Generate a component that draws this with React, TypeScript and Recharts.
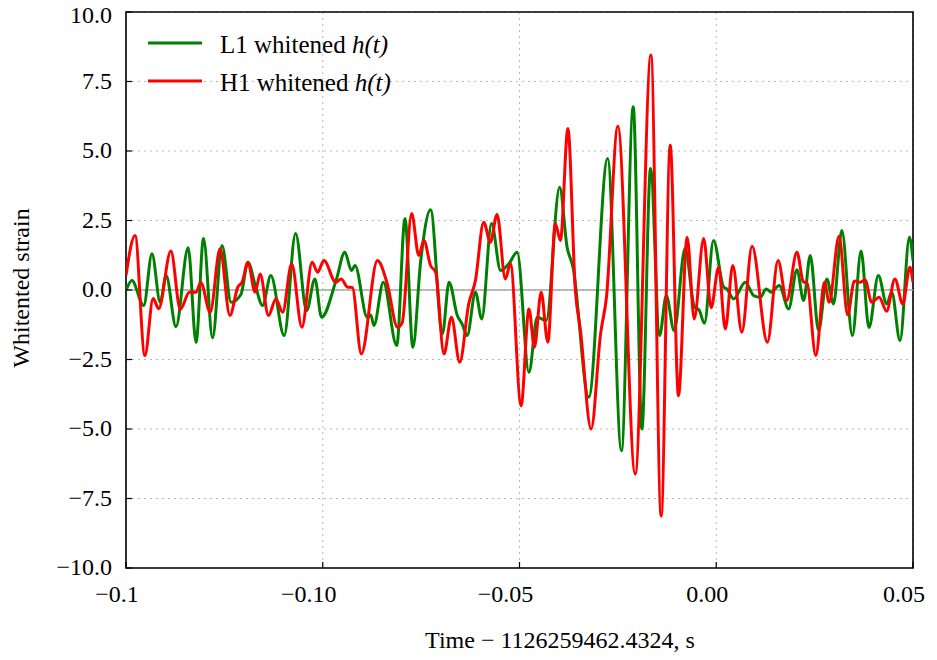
import React from 'react';
import { LineChart, Line, XAxis, YAxis, CartesianGrid, ReferenceLine, ReferenceArea, Legend } from 'recharts';

// L1 whitened strain, read peak by peak off the plot
const l1Time = [
  -0.15, -0.1485, -0.1455, -0.1434, -0.1413, -0.1398, -0.1373, -0.1342, -0.1322, -0.1303,
  -0.128, -0.1256, -0.1233, -0.1208, -0.119, -0.117, -0.1153, -0.1132, -0.1098, -0.1069,
  -0.1041, -0.102, -0.1003, -0.0965, -0.0944, -0.0927, -0.0918, -0.0887, -0.0878, -0.087,
  -0.0846, -0.0812, -0.0791, -0.0771, -0.0751, -0.0726, -0.0696, -0.0679, -0.0658, -0.0646,
  -0.0633, -0.0612, -0.0596, -0.0571, -0.0548, -0.0527, -0.0506, -0.0476, -0.0455, -0.0432,
  -0.0398, -0.0379, -0.0364, -0.0324, -0.0276, -0.0241, -0.0211, -0.0189, -0.0167, -0.0144,
  -0.0127, -0.0107, -0.0079, -0.0056, -0.0043, -0.003, -0.0007, 0.0019, 0.0027, 0.0044,
  0.0074, 0.0095, 0.0112, 0.0127, 0.0139, 0.016, 0.0184, 0.0205, 0.0222, 0.0239,
  0.026, 0.0281, 0.0298, 0.0319, 0.0346, 0.0368, 0.0388, 0.0412, 0.0433, 0.0446,
  0.0467, 0.0491, 0.05,
];
const l1Strain = [
  -0.02, 0.34, -0.56, 1.3, -0.44, 0.52, -1.32, 1.52, -1.88, 1.85,
  -1.72, 1.6, -0.44, -0.16, 0.99, 0.09, -0.56, 0.52, -1.64, 2.03,
  -0.74, 0.4, -0.98, 0.4, 1.36, 0.7, 0.88, -0.98, -0.9, -1.28,
  0.28, -2.0, 2.57, -2.06, 1.06, 2.89, -1.58, 0.28, -0.92, -1.22,
  -1.64, -0.08, -1.04, 2.39, 0.7, 0.94, 1.36, -2.96, -0.98, -1.1,
  3.7, 1.54, 0.82, -3.86, 4.73, -5.78, 6.59, -5.0, 4.37, -1.64,
  -0.2, -1.46, 1.5, -0.59, -0.74, -1.2, 1.78, 0.1, 0.04, -0.32,
  0.28, -0.2, -0.26, 0.04, -0.08, 0.16, -0.68, 0.73, -0.38, 1.24,
  -1.46, 0.4, -0.5, 2.14, -1.64, 1.4, -1.35, 0.52, -0.5, -0.08,
  -1.82, 1.9, 1.06,
];

// H1 whitened strain
const h1Time = [
  -0.15, -0.1477, -0.1452, -0.1431, -0.1417, -0.1386, -0.1362, -0.1339, -0.1322, -0.131,
  -0.1286, -0.1261, -0.1236, -0.1216, -0.1205, -0.119, -0.1172, -0.1159, -0.1138, -0.1119,
  -0.1102, -0.1079, -0.1053, -0.1027, -0.1013, -0.0997, -0.0967, -0.0953, -0.0937, -0.0925,
  -0.0902, -0.0861, -0.0836, -0.081, -0.0798, -0.0774, -0.0756, -0.0743, -0.0726, -0.0713,
  -0.0692, -0.0673, -0.0652, -0.0629, -0.0612, -0.0591, -0.0574, -0.0557, -0.0536, -0.0523,
  -0.0496, -0.0476, -0.0462, -0.0445, -0.0428, -0.0409, -0.0396, -0.0377, -0.0358, -0.0345,
  -0.0318, -0.0294, -0.0279, -0.025, -0.0206, -0.0166, -0.014, -0.0117, -0.0096, -0.0074,
  -0.0056, -0.0032, -0.0013, 0.0006, 0.0023, 0.0042, 0.0065, 0.0091, 0.013, 0.0157,
  0.0179, 0.0205, 0.0222, 0.023, 0.0253, 0.0275, 0.0287, 0.0312, 0.0334, 0.0351,
  0.0366, 0.0378, 0.0395, 0.0414, 0.0433, 0.0454, 0.0474, 0.0492, 0.05,
];
const h1Strain = [
  0.52, 1.96, -2.36, -0.31, -0.67, 1.4, -0.7, -0.08, -0.08, 0.27,
  -0.8, 1.48, -0.92, 0.1, 0.28, 1.0, -0.08, 0.58, -0.92, -0.32,
  -0.8, 0.94, -1.34, 1.0, 0.64, 1.06, 0.28, 0.4, 0.1, 0.09,
  -2.3, 1.06, 0.22, -1.34, -1.17, 2.75, 1.24, 1.78, 0.88, 0.64,
  -2.3, -0.98, -2.6, -0.5, 0.34, 2.44, 1.72, 2.72, 0.4, 0.94,
  -4.16, -0.68, -2.06, -0.08, -1.88, 2.39, 1.78, 5.81, -0.02, -1.46,
  -5.0, -1.58, -0.26, 5.89, -6.62, 8.45, -8.13, 5.21, -3.8, 1.9,
  -1.04, 1.85, -0.64, 0.82, -1.4, 0.88, -1.52, 1.57, -1.88, 1.06,
  -0.38, 1.36, 0.28, 0.28, -2.36, 0.28, -0.44, 1.93, -0.89, 0.32,
  0.28, 0.37, -0.44, -0.26, -0.76, 0.4, -0.5, 0.82, 0.28,
];

const seriesNames = ['L1 whitened h(t)', 'H1 whitened h(t)'];
const xTicks = [-0.15, -0.1, -0.05, 0, 0.05];
const xTickLabels = ['−0.1', '−0.10', '−0.05', '0.00', '0.05'];
const yTicks = [-10, -7.5, -5, -2.5, 0, 2.5, 5, 7.5, 10];
const yTickLabels = ['−10.0', '−7.5', '−5.0', '−2.5', '0.0', '2.5', '5.0', '7.5', '10.0'];

const l1Data = l1Time.map((t, i) => ({ t, v: l1Strain[i] }));
const h1Data = h1Time.map((t, i) => ({ t, v: h1Strain[i] }));

const FONT = '"Liberation Serif", "DejaVu Serif", serif';
const LEFT = 126;
const BOTTOM = 568;

const XTick = (props: any) => {
  const { x, payload } = props;
  const label = xTickLabels[xTicks.indexOf(payload.value)] ?? '';
  const dx = label.length > 4 ? -14 : -9;
  return (
    <g>
      <line x1={x} x2={x} y1={BOTTOM} y2={BOTTOM - 6} stroke="#000" strokeWidth={1.2} />
      <text x={x + dx} y={602} textAnchor="middle" fontSize={24} fontFamily={FONT} fill="#000">
        {label}
      </text>
    </g>
  );
};

const YTick = (props: any) => {
  const { y, payload } = props;
  const label = yTickLabels[yTicks.indexOf(payload.value)] ?? '';
  return (
    <g>
      <line x1={LEFT} x2={LEFT + 6} y1={y} y2={y} stroke="#000" strokeWidth={1.2} />
      <text x={112} y={Math.max(y + 7, 23)} textAnchor="end" fontSize={24} fontFamily={FONT} fill="#000">
        {label}
      </text>
    </g>
  );
};

const renderLegend = (props: any) => {
  const items = [...(props.payload || [])].sort(
    (a: any, b: any) => seriesNames.indexOf(a.value) - seriesNames.indexOf(b.value)
  );
  return (
    <div style={{ fontFamily: FONT, fontSize: 25, color: '#000' }}>
      {items.map((item: any) => {
        const base = String(item.value).replace(' h(t)', '');
        return (
          <div key={item.value} style={{ display: 'flex', alignItems: 'center', height: 38 }}>
            <svg width={54} height={6}>
              <line x1={0} x2={54} y1={3} y2={3} stroke={item.color} strokeWidth={3} />
            </svg>
            <span style={{ marginLeft: 18, whiteSpace: 'nowrap', position: 'relative', top: 2 }}>
              {base} <i>h(t)</i>
            </span>
          </div>
        );
      })}
    </div>
  );
};

export default function App() {
  return (
    <div style={{ position: 'absolute', left: 0, top: 0, width: 937, height: 660, background: '#fff' }}>
      <LineChart width={937} height={660} margin={{ top: 12, right: 24, left: 0, bottom: 0 }}>
        <CartesianGrid stroke="#b8b8b8" strokeDasharray="2 4" />
        <XAxis
          type="number"
          dataKey="t"
          domain={[-0.15, 0.05]}
          ticks={xTicks}
          interval={0}
          allowDataOverflow
          height={92}
          axisLine={false}
          tickLine={false}
          tick={XTick}
          label={{
            content: () => (
              <text x={560} y={648} textAnchor="middle" fontSize={24} fontFamily={FONT} fill="#000">
                Time − 1126259462.4324, s
              </text>
            ),
          }}
        />
        <YAxis
          type="number"
          domain={[-10, 10]}
          ticks={yTicks}
          interval={0}
          allowDataOverflow
          width={126}
          axisLine={false}
          tickLine={false}
          tick={YTick}
          label={{
            content: () => (
              <text
                transform="translate(29,288) rotate(-90)"
                textAnchor="middle"
                fontSize={24}
                fontFamily={FONT}
                fill="#000"
              >
                Whitented strain
              </text>
            ),
          }}
        />
        <ReferenceLine y={0} stroke="#a6a6a6" strokeWidth={1.5} />
        <Line
          data={l1Data}
          dataKey="v"
          name={seriesNames[0]}
          type="monotoneX"
          stroke="#008000"
          strokeWidth={3}
          dot={false}
          activeDot={false}
          isAnimationActive={false}
        />
        <Line
          data={h1Data}
          dataKey="v"
          name={seriesNames[1]}
          type="monotoneX"
          stroke="#ff0000"
          strokeWidth={3}
          dot={false}
          activeDot={false}
          isAnimationActive={false}
        />
        <ReferenceArea x1={-0.15} x2={0.05} y1={-10} y2={10} fill="none" stroke="#000" strokeWidth={1.6} />
        <Legend
          layout="vertical"
          align="center"
          verticalAlign="middle"
          wrapperStyle={{ left: 148, top: 24, width: 320 }}
          content={renderLegend}
        />
      </LineChart>
    </div>
  );
}
